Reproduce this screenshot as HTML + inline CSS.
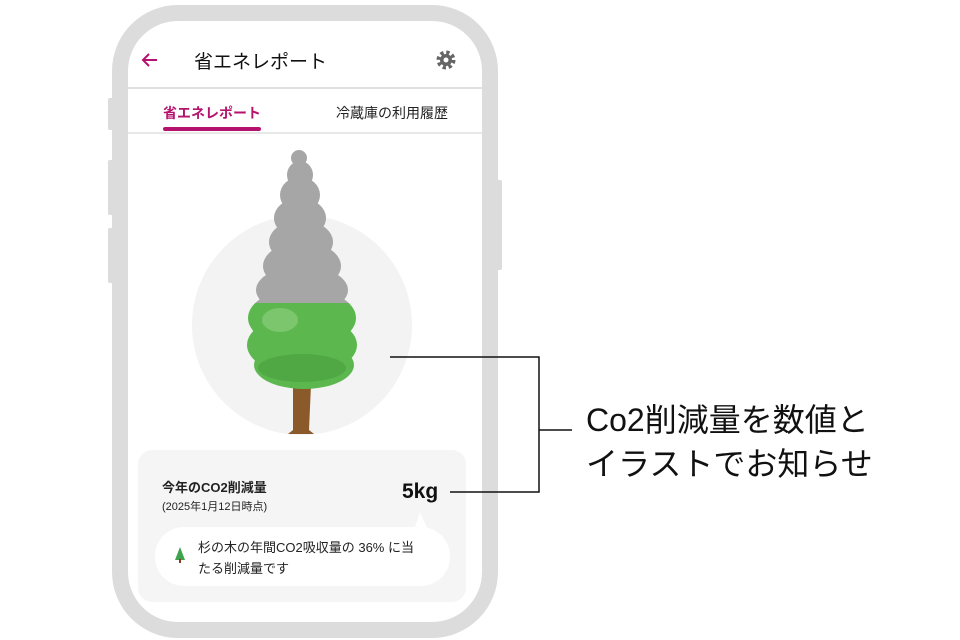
<!DOCTYPE html>
<html><head><meta charset="utf-8"><style>
body{margin:0;width:960px;height:640px;background:#fff;overflow:hidden;position:relative;font-family:"Liberation Sans","Noto Sans CJK JP",sans-serif}
.t{position:absolute;white-space:nowrap}
</style></head><body>
<svg width="960" height="640" style="position:absolute;left:0;top:0">
<defs>
<clipPath id="top"><rect x="0" y="0" width="960" height="303"/></clipPath>
<clipPath id="bot"><rect x="0" y="303" width="960" height="200"/></clipPath>
<g id="tree">
<circle cx="299" cy="158" r="8"/><ellipse cx="300" cy="175" rx="13" ry="14"/>
<ellipse cx="300" cy="195" rx="20" ry="18"/><ellipse cx="300" cy="218" rx="26" ry="20"/>
<ellipse cx="301" cy="242" rx="32" ry="22"/><ellipse cx="302" cy="266" rx="39" ry="24"/>
<ellipse cx="302" cy="290" rx="46" ry="24"/>
<ellipse cx="302" cy="318" rx="54" ry="30"/><ellipse cx="302" cy="345" rx="55" ry="30"/>
<ellipse cx="304" cy="365" rx="50" ry="24"/>
</g>
</defs>
<rect x="120" y="13" width="370" height="617" rx="58" fill="none" stroke="#dcdcdc" stroke-width="16"/>
<rect x="108" y="98" width="6" height="32" rx="2" fill="#dcdcdc"/>
<rect x="108" y="160" width="6" height="55" rx="2" fill="#dcdcdc"/>
<rect x="108" y="228" width="6" height="55" rx="2" fill="#dcdcdc"/>
<rect x="496" y="180" width="6" height="90" rx="2" fill="#dcdcdc"/>
<line x1="128" y1="88" x2="482" y2="88" stroke="#e0e0e0" stroke-width="2"/>
<line x1="128" y1="133" x2="482" y2="133" stroke="#e0e0e0" stroke-width="1.5"/>
<rect x="163" y="127" width="98" height="4" rx="2" fill="#b5126e"/>
<path d="M157 60 H143 M149 54 L143 60 L149 66" stroke="#b5126e" stroke-width="2" fill="none"/>
<circle cx="446" cy="60" r="7" fill="none" stroke="#666" stroke-width="5" stroke-dasharray="3 2.5"/>
<circle cx="446" cy="60" r="6" fill="#666"/><circle cx="446" cy="60" r="2.5" fill="#fff"/>
<circle cx="302" cy="325" r="110" fill="#f3f3f3"/>
<path d="M293 385 L311 385 L309 430 L314 434 L288 434 L293 430 Z" fill="#8b5a2b"/>
<use href="#tree" fill="#a6a6a6" clip-path="url(#top)"/>
<use href="#tree" fill="#5cb84e" clip-path="url(#bot)"/>
<ellipse cx="280" cy="320" rx="18" ry="12" fill="#7cc66e"/>
<ellipse cx="302" cy="368" rx="44" ry="14" fill="#4fa843"/>
<rect x="138" y="450" width="328" height="152" rx="14" fill="#f5f5f5"/>
<rect x="155" y="527" width="295" height="59" rx="29" fill="#fff"/>
<path d="M414 530 L420 512 L428 530 Z" fill="#fff"/>
<path d="M180 547 L185 560 L175 560 Z" fill="#3fa34d"/><rect x="179" y="559" width="2" height="4" fill="#8b3a1a"/>
<g stroke="#111" stroke-width="1.5" fill="none">
<path d="M390 357 H539 V492 H450"/><path d="M539 430 H572"/>
</g>
</svg>
<div class="t" style="left:194px;top:47px;font-size:19px;color:#111">省エネレポート</div>
<div class="t" style="left:163px;top:103px;font-size:14px;color:#b5126e;font-weight:bold">省エネレポート</div>
<div class="t" style="left:336px;top:103px;font-size:14px;color:#222">冷蔵庫の利用履歴</div>
<div class="t" style="left:162px;top:477px;font-size:13px;color:#222;font-weight:bold">今年のCO2削減量</div>
<div class="t" style="left:162px;top:498px;font-size:11px;color:#222">(2025年1月12日時点)</div>
<div class="t" style="left:402px;top:480px;font-size:21px;color:#111;font-weight:bold">5kg</div>
<div class="t" style="left:198px;top:537px;font-size:13px;color:#222;line-height:21px">杉の木の年間CO2吸収量の 36% に当<br>たる削減量です</div>
<div class="t" style="left:586px;top:398px;font-size:32px;color:#111;line-height:44px">Co2削減量を数値と<br>イラストでお知らせ</div>
</body></html>
